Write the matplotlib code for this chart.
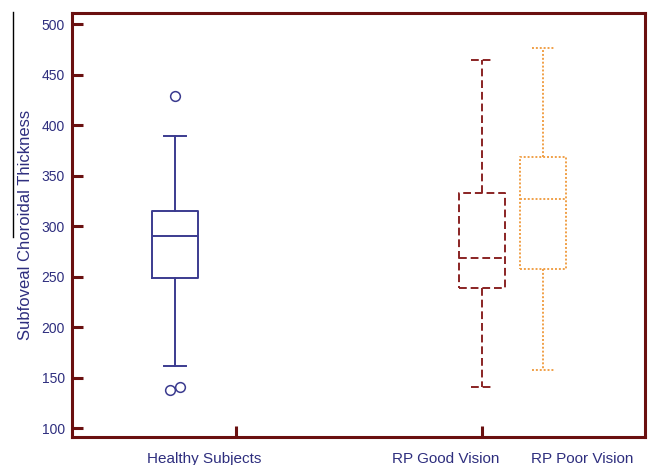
import matplotlib
matplotlib.use("Agg")
import matplotlib.pyplot as plt
from matplotlib.lines import Line2D

plt.rcParams['font.family'] = ['Liberation Sans', 'DejaVu Sans']

# values
groups = ["Healthy Subjects", "RP Good Vision", "RP Poor Vision"]
whislo = [161, 141, 157]
q1 = [249, 239, 257]
med = [290, 268, 327]
q3 = [315, 333, 368]
whishi = [389, 464, 476]
healthy_outliers = [429, 138, 141]

box_pos = [0.18, 0.7155, 0.822]
tick_pos = [0.286, 0.7155]
label_pos = [0.23, 0.6515, 0.8905]
flier_dx = [0.0, -0.008, 0.008]

colors = ["#3b3b8f", "#8a2424", "#f0a048"]
styles = ["-", (0, (4, 2)), (0, (1, 1))]
axis_col = "#6a1010"
text_col = "#2e2e7e"

fig = plt.figure(figsize=(6.48, 4.65), dpi=100)
ax = fig.add_axes([0.111, 0.06, 0.8844, 0.912])

for i in range(3):
    st = [dict(whislo=whislo[i], q1=q1[i], med=med[i], q3=q3[i], whishi=whishi[i], fliers=[])]
    ls = styles[i]
    c = colors[i]
    lw = 1.4
    ax.bxp(st, positions=[box_pos[i]], widths=0.08, showfliers=False,
           boxprops=dict(color=c, linestyle=ls, linewidth=lw),
           medianprops=dict(color=c, linestyle=ls, linewidth=lw),
           whiskerprops=dict(color=c, linestyle=ls, linewidth=lw),
           capprops=dict(color=c, linestyle=ls, linewidth=lw),
           capwidths=0.038, manage_ticks=False)

for v, dx in zip(healthy_outliers, flier_dx):
    ax.plot(box_pos[0] + dx, v, 'o', mfc='none', mec=colors[0], ms=7, mew=1.1)

ax.set_xlim(0, 1)
ax.set_ylim(91, 511)
ax.set_yticks([100, 150, 200, 250, 300, 350, 400, 450, 500])
ax.set_xticks(tick_pos)
ax.set_xticklabels([])

for s in ax.spines.values():
    s.set_color(axis_col)
    s.set_linewidth(2.2)
ax.tick_params(axis='both', direction='in', length=8, width=2.2, color=axis_col,
               labelcolor=text_col, labelsize=10)
ax.tick_params(axis='y', pad=5)

for name, xp in zip(groups, label_pos):
    ax.text(xp, -0.035, name, transform=ax.get_xaxis_transform(), ha='center', va='top',
            fontsize=11, color=text_col)

ax.set_ylabel("Subfoveal Choroidal Thickness", fontsize=12, color=text_col)
ax.yaxis.set_label_coords(-0.068, 0.5)

# stray vertical line at the left edge of the original image
fig.add_artist(Line2D([12.7 / 648, 12.7 / 648], [1 - 12 / 465, 1 - 237 / 465],
                      transform=fig.transFigure, color='black', lw=1))

fig.savefig("out.png", dpi=100)
